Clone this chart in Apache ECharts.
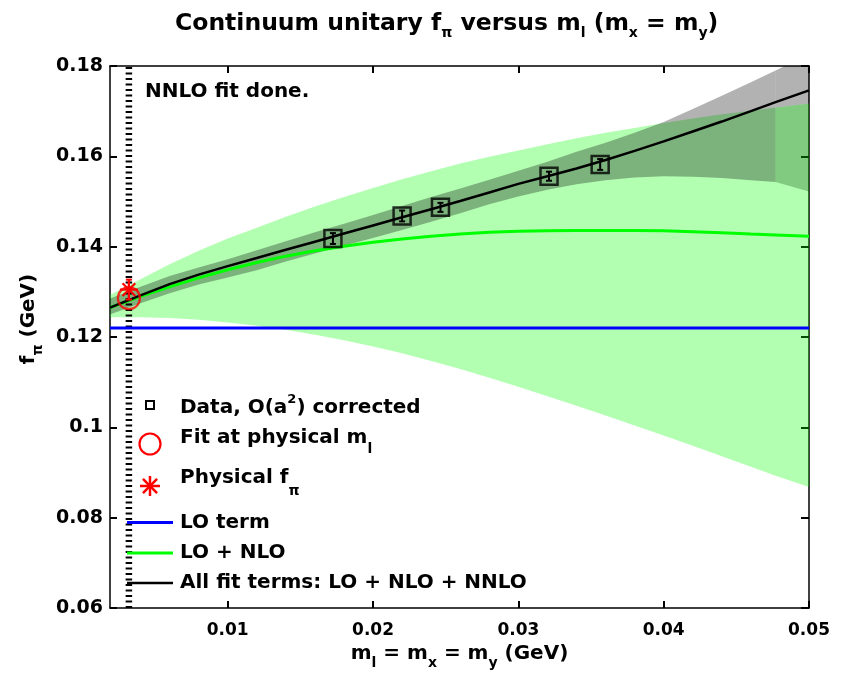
<!DOCTYPE html>
<html><head><meta charset="utf-8">
<script src="https://cdn.jsdelivr.net/npm/echarts@6/dist/echarts.min.js"></script>
<style>html,body{margin:0;padding:0;background:#fff}#c{width:843px;height:677px}</style>
</head><body><div id="c"></div>
<script>
// ---------------- data ----------------
const xGrid = [0.0019,0.004,0.006,0.008,0.010,0.012,0.014,0.016,0.018,0.020,0.022,0.024,0.026,0.028,0.030,0.032,0.034,0.036,0.038,0.040,0.042,0.044,0.046,0.0477,0.050];
const nnloLine = [0.1265,0.1292,0.1317,0.1338,0.1357,0.1375,0.1393,0.1411,0.1429,0.1447,0.1465,0.1483,0.1501,0.1520,0.1539,0.1556,0.1573,0.1592,0.1612,0.1633,0.1655,0.1677,0.1700,0.1720,0.1746];
const nloLine = [0.1265,0.1290,0.1311,0.1331,0.1349,0.1365,0.1379,0.1391,0.1401,0.1410,0.1417,0.1423,0.1428,0.1432,0.1434,0.1435,0.1436,0.1436,0.1436,0.1435,0.1433,0.1431,0.1428,0.1426,0.1423];
const nloBandHi = [0.1293,0.1328,0.1361,0.1391,0.1418,0.1442,0.1466,0.1489,0.1510,0.1530,0.1549,0.1567,0.1584,0.1599,0.1613,0.1627,0.1640,0.1652,0.1663,0.1674,0.1684,0.1693,0.1701,0.1708,0.1717];
const nloBandLo = [0.1244,0.1244,0.1242,0.1238,0.1232,0.1225,0.1216,0.1205,0.1193,0.1179,0.1164,0.1147,0.1129,0.1110,0.1090,0.1069,0.1048,0.1026,0.1004,0.0982,0.0959,0.0936,0.0913,0.0893,0.0868];
const nnloBandLo = [0.1250,0.1275,0.1297,0.1316,0.1332,0.1348,0.1367,0.1385,0.1402,0.1419,0.1437,0.1455,0.1474,0.1494,0.1511,0.1526,0.1538,0.1547,0.1553,0.1556,0.1555,0.1552,0.1547,0.1543,0.1522];
const nnloBandHi = [0.1285,0.1311,0.1335,0.1354,0.1372,0.1392,0.1412,0.1432,0.1451,0.1470,0.1490,0.1510,0.1529,0.1548,0.1568,0.1588,0.1610,0.1630,0.1652,0.1676,0.1705,0.1734,0.1764,0.1790,0.1826];
const loX = [0.0019, 0.050];
const loY = [0.122, 0.122];
const dataX = [0.01724,0.02200,0.02464,0.03211,0.03563];
const dataY = [0.1418,0.1468,0.1487,0.1556,0.1582];
const dataErr = [0.0012,0.0012,0.0010,0.0010,0.0012];
const physX = [0.0032];
const fitY = [0.1286];
const physY = [0.1305];
const physErr = [0.0022];
const physLineY = [0.06, 0.18];
const xTicks = [0.01,0.02,0.03,0.04,0.05];
const yTicks = [0.06,0.08,0.10,0.12,0.14,0.16,0.18];

// ---------------- helpers ----------------
const FONT = 'DejaVu Sans';
const STRIP_START = 23; // index of x=0.0477

function band(name, xs, lo, hi, i0, i1, color) {
  return {
    type: 'custom', name, silent: true, clip: true,
    data: [[xs[i0], lo[i0]]],
    renderItem: function (params, api) {
      const pts = [];
      for (let i = i0; i <= i1; i++) pts.push(api.coord([xs[i], hi[i]]));
      for (let i = i1; i >= i0; i--) pts.push(api.coord([xs[i], lo[i]]));
      const cs = params.coordSys;
      return { type: 'polygon', shape: { points: pts }, style: { fill: color },
        clipPath: { type: 'rect', shape: { x: cs.x, y: cs.y, width: cs.width, height: cs.height } } };
    }
  };
}
function pairs(xs, ys) { return xs.map((x, i) => [x, ys[i]]); }

function errBars(name, xs, ys, es, color, cap, z) {
  return {
    type: 'custom', name, silent: true, z,
    data: xs.map((x, i) => [x, ys[i], es[i]]),
    renderItem: function (params, api) {
      const x = api.value(0), y = api.value(1), e = api.value(2);
      const top = api.coord([x, y + e]), bot = api.coord([x, y - e]);
      const st = { stroke: color, lineWidth: 2 };
      return { type: 'group', children: [
        { type: 'line', shape: { x1: top[0], y1: top[1], x2: bot[0], y2: bot[1] }, style: st },
        { type: 'line', shape: { x1: top[0] - cap, y1: top[1], x2: top[0] + cap, y2: top[1] }, style: st },
        { type: 'line', shape: { x1: bot[0] - cap, y1: bot[1], x2: bot[0] + cap, y2: bot[1] }, style: st }
      ]};
    }
  };
}
function asteriskShapes(cx, cy, r, color, w) {
  const d = r * Math.SQRT1_2;
  const st = { stroke: color, lineWidth: w };
  return [
    { type: 'line', shape: { x1: cx - r, y1: cy, x2: cx + r, y2: cy }, style: st },
    { type: 'line', shape: { x1: cx, y1: cy - r, x2: cx, y2: cy + r }, style: st },
    { type: 'line', shape: { x1: cx - d, y1: cy - d, x2: cx + d, y2: cy + d }, style: st },
    { type: 'line', shape: { x1: cx - d, y1: cy + d, x2: cx + d, y2: cy - d }, style: st }
  ];
}

const sub = (sz, pad) => ({ fontSize: sz, fontWeight: 'bold', fontFamily: FONT, color: '#000', padding: [pad, 0, 0, 0] });
const sup = (sz, pad) => ({ fontSize: sz, fontWeight: 'bold', fontFamily: FONT, color: '#000', padding: [0, 0, pad, 0] });
const main = (sz) => ({ fontSize: sz, fontWeight: 'bold', fontFamily: FONT, color: '#000' });

const chart = echarts.init(document.getElementById('c'), null, { renderer: 'canvas' });

const axisCommon = {
  type: 'value', min: 0.0019, max: 0.05,
  splitLine: { show: false },
  axisLine: { show: true, onZero: false, lineStyle: { color: '#000', width: 1.5 } }
};

const option = {
  backgroundColor: '#fff',
  animation: false,
  title: {
    text: '{a|Continuum unitary f}{s|π}{a| versus m}{s|l}{a| (m}{s|x}{a| = m}{s|y}{a|)}',
    left: 170, top: 3,
    textStyle: { rich: { a: main(23.5), s: sub(14, 18) } }
  },
  grid: { left: 110, right: 34, top: 66, bottom: 69 },
  xAxis: [
    Object.assign({}, axisCommon, {
      position: 'bottom',
      name: '{a|m}{s|l}{a| = m}{s|x}{a| = m}{s|y}{a| (GeV)}',
      nameLocation: 'middle', nameGap: 30,
      nameTextStyle: { rich: { a: main(20), s: sub(14, 18) } },
      axisTick: { inside: true, length: 7, customValues: xTicks, lineStyle: { color: '#000', width: 2 } },
      axisLabel: { customValues: xTicks, margin: 14, formatter: v => String(+(+v).toFixed(3)),
        fontSize: 17, fontWeight: 'bold', fontFamily: FONT, color: '#000' }
    }),
    Object.assign({}, axisCommon, {
      position: 'top',
      axisTick: { inside: true, length: 7, customValues: xTicks, lineStyle: { color: '#000', width: 2 } },
      axisLabel: { show: false }
    })
  ],
  yAxis: [
    {
      type: 'value', min: 0.06, max: 0.18, position: 'left',
      splitLine: { show: false },
      axisLine: { show: true, onZero: false, lineStyle: { color: '#000', width: 1.5 } },
      name: '{a|f}{s|π}{a| (GeV)}', nameLocation: 'middle', nameGap: 60, nameRotate: 90,
      nameTextStyle: { padding: [0, 0, 0, 36], rich: { a: main(20), s: sub(14, 18) } },
      axisTick: { inside: true, length: 7, customValues: yTicks, lineStyle: { color: '#000', width: 2 } },
      axisLabel: { customValues: yTicks, margin: 7, formatter: v => String(+(+v).toFixed(3)),
        fontSize: 19, fontWeight: 'bold', fontFamily: FONT, color: '#000' }
    },
    {
      type: 'value', min: 0.06, max: 0.18, position: 'right',
      splitLine: { show: false },
      axisLine: { show: true, onZero: false, lineStyle: { color: '#000', width: 1.5 } },
      axisTick: { inside: true, length: 8, customValues: yTicks, lineStyle: { color: '#000', width: 2 } },
      axisLabel: { show: false }
    }
  ],
  series: [
    band('LO+NLO band', xGrid, nloBandLo, nloBandHi, 0, 24, 'rgba(0,255,0,0.3)'),
    band('NNLO band', xGrid, nnloBandLo, nnloBandHi, 0, STRIP_START, 'rgba(0,0,0,0.3)'),
    band('NNLO band top', xGrid, nloBandHi, nnloBandHi, STRIP_START, 24, 'rgba(0,0,0,0.3)'),
    band('NNLO band strip', xGrid, nnloBandLo, nloBandHi, STRIP_START, 24, 'rgba(0,70,0,0.28)'),
    {
      type: 'custom', name: 'physical m', silent: true, z: 3,
      data: [[physX[0], physLineY[0], physLineY[1]]],
      renderItem: function (params, api) {
        const a = api.coord([api.value(0), api.value(1)]);
        const b = api.coord([api.value(0), api.value(2)]);
        return { type: 'line', shape: { x1: a[0], y1: a[1], x2: b[0], y2: b[1] },
          style: { stroke: '#000', lineWidth: 6.5, lineDash: [2, 3.5] } };
      }
    },
    { type: 'line', name: 'LO term', data: pairs(loX, loY), showSymbol: false, symbol: 'none',
      lineStyle: { color: '#0000ff', width: 3 }, z: 3 },
    { type: 'line', name: 'LO + NLO', data: pairs(xGrid, nloLine), showSymbol: false, symbol: 'none',
      lineStyle: { color: '#00ff00', width: 3 }, z: 3 },
    { type: 'line', name: 'All fit terms', data: pairs(xGrid, nnloLine), showSymbol: false, symbol: 'none',
      lineStyle: { color: '#000', width: 2.5 }, z: 4 },
    errBars('Data err', dataX, dataY, dataErr, '#000', 3, 5),
    { type: 'scatter', name: 'Data', data: pairs(dataX, dataY), symbol: 'rect', symbolSize: 17,
      itemStyle: { color: 'rgba(0,0,0,0)', borderColor: '#000', borderWidth: 2.5 }, z: 5 },
    { type: 'scatter', name: 'Fit at physical', data: pairs(physX, fitY), symbol: 'circle', symbolSize: 22,
      itemStyle: { color: 'rgba(0,0,0,0)', borderColor: '#ff0000', borderWidth: 2.2 }, z: 6 },
    errBars('Phys err', physX, physY, physErr, '#ff0000', 3, 6),
    {
      type: 'custom', name: 'Physical f', silent: true, z: 6,
      data: pairs(physX, physY),
      renderItem: function (params, api) {
        const p = api.coord([api.value(0), api.value(1)]);
        return { type: 'group', children: asteriskShapes(p[0], p[1], 9, '#ff0000', 2.2) };
      }
    }
  ],
  graphic: [
    { type: 'text', x: 145, y: 92, z: 10, style: { text: 'NNLO fit done.', fill: '#000',
      font: 'bold 20px "DejaVu Sans"', verticalAlign: 'middle' } },
    // legend
    { type: 'rect', z: 10, shape: { x: 146, y: 401, width: 8, height: 8 }, style: { fill: 'none', stroke: '#000', lineWidth: 2 } },
    { type: 'text', x: 180, y: 408, z: 10, style: { text: '{a|Data, O(a}{p|2}{a|) corrected}', verticalAlign: 'middle',
      rich: { a: main(20), p: sup(13, 16) } } },
    { type: 'circle', z: 10, shape: { cx: 150, cy: 444, r: 10.5 }, style: { fill: 'none', stroke: '#ff0000', lineWidth: 2.2 } },
    { type: 'text', x: 180, y: 438, z: 10, style: { text: '{a|Fit at physical m}{s|l}', verticalAlign: 'middle',
      rich: { a: main(20), s: sub(14, 22) } } },
    { type: 'group', z: 10, children: asteriskShapes(150, 486, 10, '#ff0000', 2.5) },
    { type: 'text', x: 180, y: 478, z: 10, style: { text: '{a|Physical f}{s|π}', verticalAlign: 'middle',
      rich: { a: main(20), s: sub(14, 26) } } },
    { type: 'line', z: 10, shape: { x1: 127, y1: 522.5, x2: 173, y2: 522.5 }, style: { stroke: '#0000ff', lineWidth: 3 } },
    { type: 'text', x: 180, y: 523, z: 10, style: { text: 'LO term', fill: '#000', font: 'bold 20px "DejaVu Sans"', verticalAlign: 'middle' } },
    { type: 'line', z: 10, shape: { x1: 127, y1: 553, x2: 173, y2: 553 }, style: { stroke: '#00ff00', lineWidth: 3 } },
    { type: 'text', x: 180, y: 553, z: 10, style: { text: 'LO + NLO', fill: '#000', font: 'bold 20px "DejaVu Sans"', verticalAlign: 'middle' } },
    { type: 'line', z: 10, shape: { x1: 127, y1: 583, x2: 173, y2: 583 }, style: { stroke: '#000', lineWidth: 2.5 } },
    { type: 'text', x: 180, y: 583, z: 10, style: { text: 'All fit terms: LO + NLO + NNLO', fill: '#000', font: 'bold 20px "DejaVu Sans"', verticalAlign: 'middle' } }
  ]
};
chart.setOption(option);
</script>
</body></html>
